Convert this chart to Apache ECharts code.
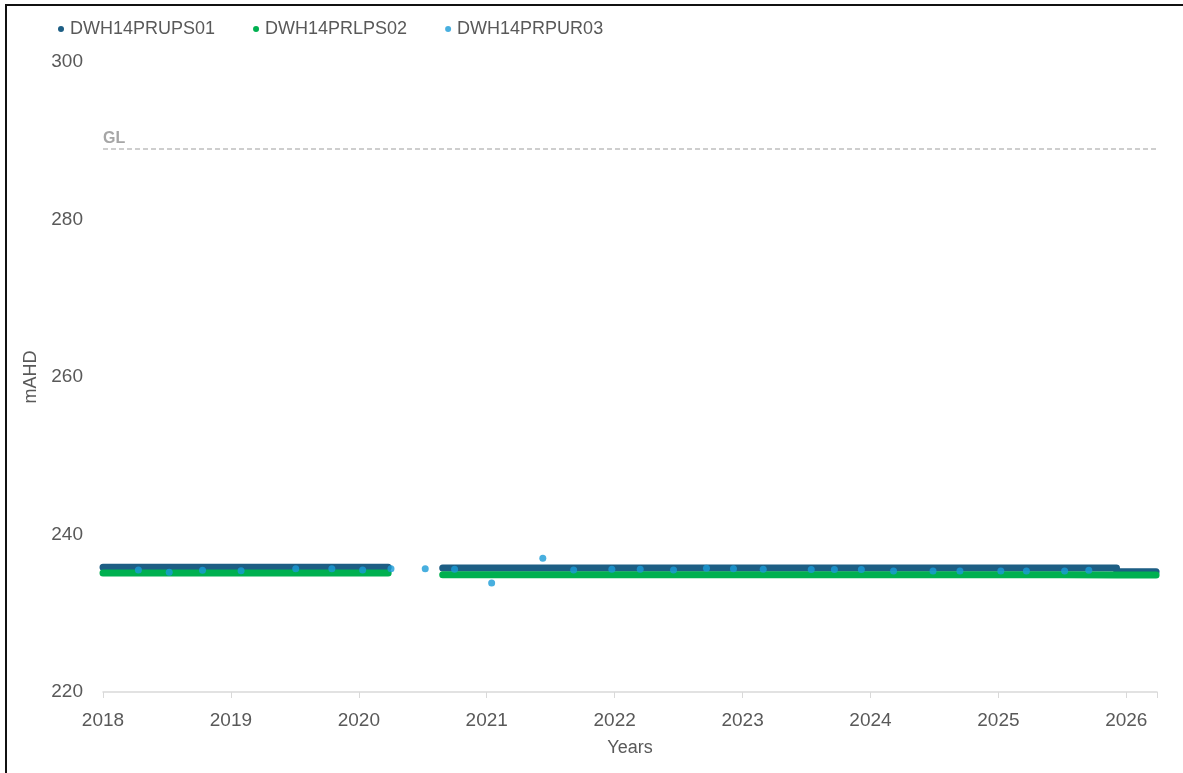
<!DOCTYPE html>
<html>
<head>
<meta charset="utf-8">
<script src="https://cdn.jsdelivr.net/npm/echarts@6/dist/echarts.min.js"></script>
<style>
  html, body { margin: 0; padding: 0; background: #fff; }
  #chart { position: absolute; left: 0; top: 0; width: 1183px; height: 773px; }
  #frame { position: absolute; left: 5px; top: 4px; width: 1300px; height: 900px;
           border-left: 2px solid #111; border-top: 2px solid #111; pointer-events: none; }
</style>
</head>
<body>
<div id="chart"></div>
<div id="frame"></div>
<script>
// Logger water levels (mAHD) for the three piezometers
const seriesNames = ['DWH14PRUPS01', 'DWH14PRLPS02', 'DWH14PRPUR03'];

// Sample dates for the two continuous logger records
const bandDates = [
  '2018-01-01', '2018-07-01', '2019-01-01', '2019-07-01', '2020-01-01', '2020-03-25',
  '2020-06-01',
  '2020-08-28', '2021-01-01', '2021-07-01', '2022-01-01', '2022-07-01', '2023-01-01',
  '2023-07-01', '2024-01-01', '2024-07-01', '2025-01-01', '2025-07-01', '2025-12-04',
  '2025-12-05', '2026-03-27'
];
const ups01 = [
  235.85, 235.85, 235.85, 235.85, 235.85, 235.85,
  null,
  235.75, 235.75, 235.75, 235.75, 235.75, 235.75,
  235.75, 235.75, 235.75, 235.75, 235.75, 235.75,
  235.27, 235.27
];
const lps02 = [
  235.1, 235.1, 235.1, 235.1, 235.1, 235.1,
  null,
  234.9, 234.9, 234.9, 234.9, 234.9, 234.9,
  234.9, 234.88, 234.88, 234.88, 234.88, 234.85,
  234.85, 234.85
];

// Manual readings for the third bore
const pur03Dates = [
  '2018-04-12', '2018-07-09', '2018-10-12', '2019-01-30', '2019-07-05', '2019-10-16',
  '2020-01-12', '2020-04-02', '2020-07-09', '2020-10-01', '2021-01-15', '2021-06-10',
  '2021-09-06', '2021-12-24', '2022-03-15', '2022-06-18', '2022-09-20', '2022-12-06',
  '2023-03-01', '2023-07-16', '2023-09-20', '2023-12-06', '2024-03-07', '2024-06-28',
  '2024-09-13', '2025-01-08', '2025-03-22', '2025-07-09', '2025-09-16'
];
const pur03 = [
  235.5, 235.2, 235.45, 235.4, 235.65, 235.65,
  235.5, 235.65, 235.65, 235.6, 233.85, 237.0,
  235.5, 235.6, 235.6, 235.5, 235.7, 235.65,
  235.6, 235.55, 235.55, 235.55, 235.35, 235.35,
  235.35, 235.35, 235.35, 235.35, 235.45
];

const groundLevel = 289;
const yearTicks = [2018, 2019, 2020, 2021, 2022, 2023, 2024, 2025, 2026];

// date string -> fractional year
function toYear(s) {
  const d = Date.parse(s + 'T00:00:00Z');
  const y = new Date(d).getUTCFullYear();
  const a = Date.UTC(y, 0, 1), b = Date.UTC(y + 1, 0, 1);
  return y + (d - a) / (b - a);
}
const pair = (dates, vals) => dates.map((d, i) => [toYear(d), vals[i]]);

const textColor = '#595959';
const font = 'Liberation Sans, Arial, sans-serif';
const colors = ['#1d5e84', '#00b050', '#1a9bd7'];

const chart = echarts.init(document.getElementById('chart'), null, { renderer: 'canvas' });
chart.setOption({
  animation: false,
  textStyle: { fontFamily: font },
  color: colors,
  legend: {
    left: 53, top: 15,
    icon: 'circle', itemWidth: 8, itemHeight: 6, itemGap: 38,
    textStyle: { color: textColor, fontSize: 18, fontFamily: font },
    data: seriesNames
  },
  grid: { left: 103, right: 26, top: 62, bottom: 81, containLabel: false },
  xAxis: {
    type: 'value', min: 2018, max: 2026.24, interval: 1,
    name: 'Years', nameLocation: 'middle', nameGap: 47,
    nameTextStyle: { color: textColor, fontSize: 18, fontFamily: font },
    axisLine: { show: true, lineStyle: { color: '#d9d9d9', width: 1.5 } },
    axisTick: { show: true, length: 6, lineStyle: { color: '#d9d9d9' } },
    axisLabel: {
      color: textColor, fontSize: 19, margin: 19, fontFamily: font,
      formatter: v => (yearTicks.indexOf(Math.round(v)) >= 0 && Math.abs(v - Math.round(v)) < 1e-6) ? String(Math.round(v)) : ''
    },
    splitLine: { show: false }
  },
  yAxis: {
    type: 'value', min: 220, max: 300, interval: 20,
    name: 'mAHD', nameLocation: 'middle', nameGap: 58,
    nameTextStyle: { color: textColor, fontSize: 18, fontFamily: font },
    axisLine: { show: false }, axisTick: { show: false },
    axisLabel: { color: textColor, fontSize: 19, margin: 20, fontFamily: font },
    splitLine: { show: false }
  },
  series: [
    {
      name: seriesNames[0], type: 'line', data: pair(bandDates, ups01),
      showSymbol: false, connectNulls: false,
      lineStyle: { width: 7, color: colors[0], cap: 'round', join: 'round' },
      z: 2,
      markLine: {
        silent: true, symbol: 'none',
        lineStyle: { color: '#bfbfbf', type: [5, 3], width: 1.5 },
        label: {
          show: true, position: 'insideStartTop', formatter: 'GL',
          color: '#a6a6a6', fontWeight: 'bold', fontSize: 16, fontFamily: font,
          distance: [0, 2]
        },
        data: [{ yAxis: groundLevel }]
      }
    },
    {
      name: seriesNames[1], type: 'line', data: pair(bandDates, lps02),
      showSymbol: false, connectNulls: false,
      lineStyle: { width: 7, color: colors[1], cap: 'round', join: 'round' },
      z: 3
    },
    {
      name: seriesNames[2], type: 'scatter', data: pair(pur03Dates, pur03),
      symbolSize: 7, itemStyle: { color: colors[2] }, z: 4
    }
  ]
});
</script>
</body>
</html>
